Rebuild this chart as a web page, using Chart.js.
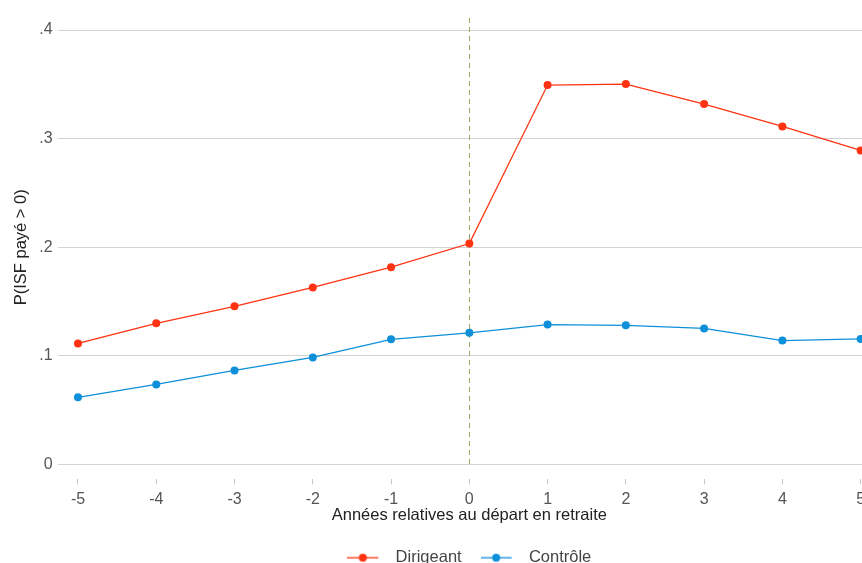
<!DOCTYPE html>
<html>
<head>
<meta charset="utf-8">
<script src="https://cdn.jsdelivr.net/npm/chart.js@4/dist/chart.umd.min.js"></script>
<style>
  html, body { margin: 0; padding: 0; background: #fff; overflow: hidden; }
  #wrap { width: 881px; height: 578px; }
</style>
</head>
<body>
<div id="wrap"><canvas id="chart"></canvas></div>
<script>
const years = [-5, -4, -3, -2, -1, 0, 1, 2, 3, 4, 5];
const dirigeant = [0.1115, 0.130, 0.1456, 0.163, 0.1816, 0.2034, 0.3493, 0.3502, 0.3318, 0.3112, 0.2891];
const controle = [0.0618, 0.0737, 0.0866, 0.0986, 0.1152, 0.1212, 0.1288, 0.1281, 0.1253, 0.1141, 0.1156];
const seriesNames = ['Dirigeant', 'Contrôle'];
const seriesColors = ['#ff3311', '#0e8fda'];

const FONT = "'Liberation Sans', Arial, sans-serif";

// "line with a dot" swatch for the legend, blank space on the right
function swatch(color) {
    const c = document.createElement('canvas');
    c.width = 40; c.height = 10;
    const g = c.getContext('2d');
    g.strokeStyle = color; g.lineWidth = 1.3;
    g.beginPath(); g.moveTo(0, 5); g.lineTo(31, 5); g.stroke();
    g.fillStyle = color;
    g.beginPath(); g.arc(15.5, 5, 4, 0, Math.PI * 2); g.fill();
    return c;
}

const zeroLine = {
    id: 'zeroLine',
    beforeDatasetsDraw(chart) {
        const { ctx, chartArea, scales } = chart;
        const x = Math.round(scales.x.getPixelForValue(0)) + 0.5;
        ctx.save();
        ctx.strokeStyle = '#8fac62';
        ctx.lineWidth = 1;
        ctx.setLineDash([5, 4]);
        ctx.beginPath();
        ctx.moveTo(x, chartArea.top - 12);
        ctx.lineTo(x, chartArea.bottom);
        ctx.stroke();
        ctx.restore();
    }
};

function noPad(scale) {
    scale.paddingLeft = 0; scale.paddingRight = 0;
    scale.paddingTop = 0; scale.paddingBottom = 0;
}

const ctx = document.getElementById('chart');

new Chart(ctx, {
    type: 'line',
    data: {
        datasets: [dirigeant, controle].map((vals, i) => ({
            label: seriesNames[i],
            data: years.map((x, j) => ({ x: x, y: vals[j] })),
            borderColor: seriesColors[i],
            backgroundColor: seriesColors[i],
            borderWidth: 1.3,
            pointRadius: 4,
            pointHoverRadius: 4,
            pointBorderWidth: 0,
            pointStyle: 'circle',
            tension: 0,
            clip: false
        }))
    },
    options: {
        responsive: true,
        maintainAspectRatio: false,
        animation: false,
        layout: { autoPadding: false, padding: { top: 30, left: 12, right: 0, bottom: 2 } },
        plugins: {
            tooltip: { enabled: false },
            legend: {
                position: 'bottom',
                fullSize: false,
                labels: {
                    color: '#444',
                    font: { family: FONT, size: 16.5 },
                    usePointStyle: true,
                    pointStyleWidth: 40,
                    boxHeight: 10,
                    padding: 19,
                    generateLabels: chart => chart.data.datasets.map((d, i) => ({
                        text: d.label,
                        pointStyle: swatch(d.borderColor),
                        fillStyle: d.borderColor,
                        strokeStyle: d.borderColor,
                        fontColor: '#444',
                        lineWidth: 0,
                        datasetIndex: i,
                        hidden: false
                    }))
                }
            }
        },
        scales: {
            x: {
                type: 'linear',
                min: -5.26,
                max: 5.26,
                afterFit: noPad,
                afterBuildTicks: s => { s.ticks = years.map(v => ({ value: v })); },
                border: { display: false },
                grid: {
                    drawOnChartArea: false,
                    drawTicks: true,
                    tickLength: 20,
                    tickColor: '#c8c8c8',
                    tickWidth: 1,
                    tickBorderDash: [0, 14, 6, 100]
                },
                ticks: {
                    color: '#555',
                    font: { family: FONT, size: 16 },
                    padding: 5,
                    maxRotation: 0,
                    autoSkip: false
                },
                title: {
                    display: true,
                    text: 'Années relatives au départ en retraite',
                    color: '#222',
                    font: { family: FONT, size: 16.5 },
                    padding: { top: -8, bottom: 5 }
                }
            },
            y: {
                min: 0,
                max: 0.4,
                afterFit: noPad,
                border: { display: false },
                grid: {
                    color: '#d2d2d2',
                    lineWidth: 1,
                    drawTicks: false
                },
                ticks: {
                    stepSize: 0.1,
                    color: '#555',
                    font: { family: FONT, size: 16 },
                    padding: 5,
                    callback: v => v === 0 ? '0' : v.toFixed(1).replace(/^0/, '')
                },
                title: {
                    display: true,
                    text: 'P(ISF payé > 0)',
                    color: '#222',
                    font: { family: FONT, size: 16.5 },
                    padding: { top: 0, bottom: 2.5 }
                }
            }
        }
    },
    plugins: [zeroLine]
});
</script>
</body>
</html>
